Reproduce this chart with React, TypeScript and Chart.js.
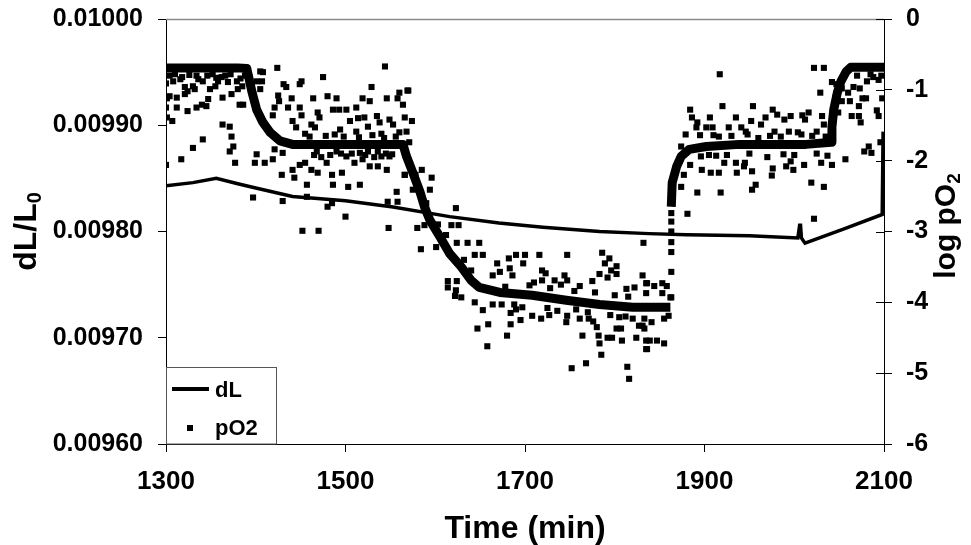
import React, { useEffect, useRef } from "react";
import { Chart, registerables } from "chart.js";

Chart.register(...registerables);

const FONT = '"Liberation Sans", Arial, Helvetica, sans-serif';

// ---- axis ticks ----
const xTicks = [1300, 1500, 1700, 1900, 2100];
const leftTicks = [0.0096, 0.0097, 0.0098, 0.0099, 0.01];
const rightTicks = [-6, -5, -4, -3, -2, -1, 0];

// ---- dL/L0 (left axis) ----
const dLTime = [1300, 1330, 1356, 1380, 1400, 1441, 1500, 1553, 1616, 1671, 1720, 1783, 1838, 1880, 1950, 2004, 2006, 2007, 2008, 2012, 2057, 2098, 2099];
const dLValue = [0.009843, 0.009846, 0.00985, 0.009845, 0.009841, 0.009833, 0.009829, 0.009823, 0.009814, 0.009808, 0.009804, 0.0098, 0.009798, 0.009797, 0.009796, 0.009794, 0.009806, 0.009806, 0.009794, 0.009789, 0.009803, 0.009816, 0.009894];

// ---- log pO2 dense core (right axis) ----
const pO2CoreTimeA = [1300, 1320, 1340, 1360, 1380, 1390, 1396, 1401, 1408, 1416, 1427, 1441, 1480, 1520, 1564, 1568, 1575, 1583, 1588, 1594, 1605, 1616, 1629, 1640, 1649, 1672, 1708, 1746, 1783, 1820, 1862];
const pO2CoreLogA = [-0.69, -0.69, -0.69, -0.69, -0.69, -0.7, -1.04, -1.28, -1.46, -1.6, -1.72, -1.77, -1.77, -1.77, -1.77, -1.94, -2.17, -2.44, -2.65, -2.84, -3.07, -3.31, -3.5, -3.69, -3.79, -3.86, -3.9, -3.97, -4.03, -4.07, -4.07];
const pO2CoreTimeB = [1863, 1864, 1869, 1874, 1883, 1902, 1939, 1975, 2013, 2041, 2042, 2044, 2048, 2052, 2058, 2063, 2100];
const pO2CoreLogB = [-2.65, -2.31, -2.08, -1.94, -1.84, -1.8, -1.77, -1.77, -1.77, -1.74, -1.52, -1.28, -1.04, -0.88, -0.74, -0.68, -0.68];

// ---- log pO2 scattered readings [time, log pO2] ----
const pO2High1: [number, number][] = [
  [1300, -2.06], [1317, -1.98], [1330, -1.82], [1341, -1.7], [1301, -1.39], [1307, -1.44], [1300, -1.25], [1312, -1.25],
  [1324, -1.3], [1334, -1.25], [1340, -1.21], [1345, -1.23], [1347, -1.13], [1301, -1.12], [1304, -1.09], [1312, -1.11],
  [1321, -1.06], [1324, -1.02], [1332, -0.99], [1349, -0.99], [1355, -0.95], [1363, -1.11], [1373, -1.06], [1382, -1.21],
  [1386, -1.21], [1363, -1.49], [1371, -1.52], [1373, -1.66], [1375, -1.8], [1371, -1.87], [1377, -2.03], [1300, -0.91],
  [1308, -0.88], [1316, -0.85], [1321, -0.96], [1330, -0.95], [1336, -0.85], [1341, -0.88], [1358, -0.88], [1362, -0.82],
  [1369, -0.89], [1379, -0.88], [1385, -0.95], [1380, -0.99], [1304, -0.8], [1326, -0.79], [1346, -0.8], [1352, -0.78],
  [1366, -0.8], [1388, -0.8], [1310, -0.78], [1318, -0.82], [1334, -0.8], [1356, -0.83], [1372, -0.78], [1383, -0.84],
];
const pO2Mid1: [number, number][] = [
  [1405, -0.74], [1408, -0.75], [1424, -0.69], [1407, -0.88], [1401, -0.88], [1393, -0.82], [1405, -0.99], [1431, -0.92],
  [1434, -0.96], [1451, -0.88], [1449, -0.92], [1475, -0.82], [1544, -0.67], [1425, -1.08], [1440, -1.12], [1426, -1.16],
  [1436, -1.25], [1449, -1.25], [1464, -1.12], [1480, -1.09], [1490, -1.12], [1486, -1.28], [1493, -1.28], [1501, -1.28],
  [1512, -1.25], [1519, -1.12], [1527, -1.16], [1529, -0.96], [1546, -1.12], [1558, -1.12], [1560, -1.04], [1569, -1.01],
  [1421, -1.25], [1419, -1.36], [1451, -1.36], [1469, -1.32], [1471, -1.39], [1441, -1.44], [1462, -1.49], [1466, -1.53],
  [1505, -1.44], [1514, -1.4], [1521, -1.39], [1535, -1.37], [1538, -1.46], [1549, -1.42], [1553, -1.49], [1566, -1.39],
  [1494, -1.56], [1512, -1.59], [1525, -1.52], [1560, -1.6], [1445, -1.53], [1401, -1.91], [1399, -2.03], [1410, -2.03],
  [1419, -1.98], [1421, -1.84], [1429, -2.2], [1441, -2.13], [1443, -2.24], [1449, -2.06], [1457, -2.34], [1455, -2.03],
  [1462, -2.13], [1469, -2.17], [1479, -2.03], [1485, -2.2], [1486, -2.34], [1496, -2.17], [1503, -2.37], [1510, -2.03],
  [1516, -2.34], [1519, -1.98], [1527, -2.08], [1536, -2.08], [1540, -1.94], [1546, -2.13], [1549, -1.94], [1557, -2.44],
  [1558, -2.58], [1547, -2.58], [1566, -2.2], [1536, -1.87], [1525, -1.87], [1516, -1.89], [1501, -1.94], [1490, -1.87],
  [1468, -1.87], [1430, -1.89], [1397, -2.52], [1430, -2.57], [1485, -2.6], [1457, -2.51], [1452, -2.99], [1470, -2.99],
  [1500, -2.79], [1480, -2.65], [1548, -2.95], [1455, -1.62], [1478, -1.65], [1483, -1.92], [1498, -1.66], [1507, -1.9],
  [1530, -1.64], [1543, -1.68], [1552, -1.91], [1473, -1.95], [1532, -1.95], [1460, -1.66], [1488, -1.63], [1515, -1.67],
  [1540, -1.62], [1556, -1.66], [1465, -1.92], [1495, -1.9], [1522, -1.92], [1545, -1.9],
];
const pO2Fall: [number, number][] = [
  [1570, -1.01], [1564, -1.21], [1574, -1.44], [1568, -1.59], [1571, -1.74], [1585, -2.13], [1596, -2.24], [1594, -2.41],
  [1566, -2.2], [1575, -2.41], [1623, -2.67], [1580, -2.95], [1588, -2.91], [1584, -3.25], [1618, -2.91], [1626, -2.91],
  [1601, -3.22], [1624, -3.16], [1636, -3.16], [1649, -3.16], [1644, -3.33], [1653, -3.33], [1614, -3.7], [1624, -3.7],
  [1614, -3.79], [1622, -3.91], [1629, -3.93], [1623, -3.83], [1644, -4.0], [1653, -4.11], [1647, -4.37], [1659, -4.31],
  [1658, -4.62], [1578, -2.2], [1590, -2.6], [1603, -2.9], [1612, -3.05], [1632, -3.4], [1640, -3.55],
];
const pO2Low: [number, number][] = [
  [1680, -4.47], [1684, -4.31], [1684, -4.15], [1664, -4.03], [1674, -4.03], [1688, -4.03], [1697, -4.07], [1708, -4.19],
  [1718, -4.23], [1727, -4.18], [1746, -4.28], [1747, -4.19], [1761, -4.23], [1764, -4.47], [1771, -4.23], [1776, -4.27],
  [1780, -4.35], [1782, -4.47], [1783, -4.58], [1785, -4.74], [1792, -4.5], [1797, -4.5], [1802, -4.37], [1807, -4.37],
  [1808, -4.54], [1752, -4.93], [1768, -4.86], [1814, -4.91], [1816, -5.08], [1824, -4.5], [1827, -4.33], [1835, -4.54],
  [1835, -4.66], [1805, -4.21], [1820, -4.23], [1669, -3.45], [1682, -3.38], [1690, -3.33], [1700, -3.33], [1716, -3.33],
  [1698, -3.45], [1683, -3.52], [1672, -3.57], [1664, -3.62], [1686, -3.62], [1719, -3.55], [1723, -3.59], [1719, -3.69],
  [1733, -3.69], [1744, -3.62], [1747, -3.33], [1747, -3.69], [1761, -3.77], [1775, -3.7], [1786, -3.3], [1789, -3.45],
  [1794, -3.38], [1796, -3.55], [1802, -3.49], [1802, -3.6], [1783, -3.6], [1792, -3.65], [1831, -3.62], [1835, -3.73],
  [1822, -3.79], [1813, -3.81], [1832, -3.16], [1836, -3.73], [1844, -3.77], [1853, -3.73], [1858, -3.77], [1835, -3.87],
  [1853, -3.87], [1862, -3.93], [1833, -4.23], [1841, -4.28], [1855, -4.23], [1860, -4.19], [1831, -4.33], [1833, -4.37],
  [1839, -4.54], [1847, -4.54], [1855, -4.58], [1836, -4.66], [1695, -4.25], [1736, -4.12], [1757, -4.1], [1740, -3.75],
  [1710, -3.72], [1678, -3.78], [1705, -3.76], [1728, -3.8], [1755, -3.84], [1778, -3.86], [1800, -3.9], [1815, -3.92],
  [1690, -4.1], [1725, -4.08], [1770, -4.14], [1795, -4.18], [1812, -4.2],
];
const pO2Jump: [number, number][] = [
  [1863, -2.74], [1863, -2.86], [1863, -3.0], [1863, -3.15], [1863, -3.29], [1863, -3.57], [1863, -3.93], [1881, -2.75],
  [2022, -2.82],
];
const pO2Mid2: [number, number][] = [
  [1917, -0.78], [1884, -1.28], [1886, -1.39], [1920, -1.23], [1954, -1.23], [1906, -1.39], [1892, -1.46], [1935, -1.39],
  [1952, -1.44], [1968, -1.39], [1976, -1.28], [1981, -1.35], [1989, -1.42], [1996, -1.37], [2009, -1.36], [2016, -1.32],
  [2012, -1.42], [2031, -1.37], [2033, -1.49], [1891, -1.53], [1902, -1.53], [1909, -1.53], [1927, -1.53], [1941, -1.53],
  [1946, -1.59], [1879, -1.63], [1895, -1.64], [1916, -1.66], [1963, -1.49], [1978, -1.59], [1994, -1.59], [2004, -1.6],
  [2025, -1.59], [1874, -1.8], [1896, -1.94], [1913, -1.93], [1922, -2.03], [1935, -2.03], [1945, -2.03], [1936, -2.17],
  [1944, -2.08], [1953, -2.15], [1957, -2.34], [1953, -2.41], [1976, -2.11], [1975, -2.21], [1991, -2.08], [1996, -2.01],
  [1999, -2.13], [2011, -2.06], [2030, -2.03], [2042, -2.06], [2057, -1.98], [2019, -2.31], [2033, -2.37], [1907, -2.17],
  [1916, -2.17], [1897, -2.13], [1877, -2.2], [1874, -2.37], [1892, -2.45], [1918, -2.45], [1884, -2.06], [1930, -1.65],
  [1960, -1.68], [1985, -1.66], [2020, -1.65], [1925, -1.92], [1970, -1.95], [2000, -1.92], [2037, -1.93], [1910, -1.64],
  [1948, -1.63], [1973, -1.65], [2008, -1.63], [2035, -1.66], [1905, -1.92], [1950, -1.9], [1988, -1.91], [2025, -1.9],
];
const pO2High2: [number, number][] = [
  [2022, -0.69], [2033, -0.69], [2042, -0.89], [2029, -1.04], [2046, -1.11], [2049, -1.32], [2053, -1.16], [2060, -1.04],
  [2066, -0.96], [2073, -0.98], [2081, -0.88], [2088, -0.82], [2094, -0.86], [2062, -1.16], [2072, -1.23], [2076, -1.12],
  [2080, -1.12], [2064, -1.37], [2072, -1.37], [2074, -1.46], [2092, -1.29], [2094, -1.37], [2098, -1.12], [2078, -1.87],
  [2083, -1.8], [2086, -1.89], [2096, -1.74], [2053, -0.98], [2047, -0.92], [2070, -0.8], [2085, -0.78], [2097, -0.8],
];

const zip = (xs: number[], ys: number[]) => xs.map((x, i) => ({ x, y: ys[i] }));
const pairs = (list: [number, number][]) => list.map(([x, y]) => ({ x, y }));

const decor = {
  id: "decor",
  afterDraw(chart: any) {
    const { ctx, chartArea } = chart;
    const { left, right, top, bottom } = chartArea;
    const y2 = chart.scales.y2;
    ctx.save();
    // top border of the plot area
    ctx.strokeStyle = "#8a8a8a";
    ctx.lineWidth = 1.5;
    ctx.beginPath();
    ctx.moveTo(left, top + 0.5);
    ctx.lineTo(right, top + 0.5);
    ctx.stroke();
    // inner part of right-axis ticks
    ctx.strokeStyle = "#000";
    ctx.lineWidth = 1;
    rightTicks.forEach((v) => {
      const y = Math.round(y2.getPixelForValue(v)) + 0.5;
      ctx.beginPath();
      ctx.moveTo(right - 8, y);
      ctx.lineTo(right, y);
      ctx.stroke();
    });
    ctx.fillStyle = "#000";
    // x title
    ctx.font = `bold 32px ${FONT}`;
    ctx.textAlign = "center";
    ctx.textBaseline = "alphabetic";
    ctx.fillText("Time (min)", (left + right) / 2, 538);
    // left title dL/L0
    ctx.save();
    ctx.translate(36, (top + bottom) / 2);
    ctx.rotate(-Math.PI / 2);
    const main1 = "dL/L";
    ctx.font = `bold 32px ${FONT}`;
    const w1 = ctx.measureText(main1).width;
    ctx.font = `bold 20px ${FONT}`;
    const s1 = ctx.measureText("0").width;
    const tot1 = w1 + s1;
    ctx.textAlign = "left";
    ctx.font = `bold 32px ${FONT}`;
    ctx.fillText(main1, -tot1 / 2, 0);
    ctx.font = `bold 20px ${FONT}`;
    ctx.fillText("0", -tot1 / 2 + w1, 5);
    ctx.restore();
    // right title log pO2
    ctx.save();
    ctx.translate(955, 226);
    ctx.rotate(-Math.PI / 2);
    const main2 = "log pO";
    ctx.font = `bold 30px ${FONT}`;
    const w2 = ctx.measureText(main2).width;
    ctx.font = `bold 19px ${FONT}`;
    const s2 = ctx.measureText("2").width;
    const tot2 = w2 + s2;
    ctx.textAlign = "left";
    ctx.font = `bold 30px ${FONT}`;
    ctx.fillText(main2, -tot2 / 2, 0);
    ctx.font = `bold 19px ${FONT}`;
    ctx.fillText("2", -tot2 / 2 + w2, 5);
    ctx.restore();
    // legend box
    ctx.fillStyle = "#fff";
    ctx.fillRect(left, 368, 110, bottom - 368);
    ctx.strokeStyle = "#555";
    ctx.lineWidth = 1;
    ctx.strokeRect(left + 0.5, 367.5, 110, bottom - 367.5);
    ctx.strokeStyle = "#000";
    ctx.lineWidth = 4;
    ctx.beginPath();
    ctx.moveTo(left + 6, 389);
    ctx.lineTo(left + 43, 389);
    ctx.stroke();
    ctx.fillStyle = "#000";
    ctx.fillRect(left + 21, 425, 6, 6);
    ctx.font = `bold 22px ${FONT}`;
    ctx.textAlign = "left";
    ctx.textBaseline = "middle";
    ctx.fillText("dL", left + 49, 391);
    ctx.fillText("pO2", left + 49, 429);
    ctx.restore();
  },
};

const noVPad = (w: number) => (s: any) => {
  s.width = w;
  s.paddingTop = 0;
  s.paddingBottom = 0;
};

export default function App() {
  const ref = useRef<HTMLCanvasElement | null>(null);
  useEffect(() => {
    if (!ref.current) return;
    const scatterStyle = {
      showLine: false,
      pointStyle: "rect",
      pointRadius: 4.3,
      pointBorderWidth: 0,
      backgroundColor: "#000",
      borderColor: "#000",
      yAxisID: "y2",
    };
    const coreStyle = {
      showLine: true,
      borderColor: "#000",
      borderWidth: 9,
      borderJoinStyle: "round",
      pointRadius: 0,
      tension: 0,
      yAxisID: "y2",
    };
    const chart = new Chart(ref.current, {
      type: "scatter",
      data: {
        datasets: [
          {
            label: "dL",
            data: zip(dLTime, dLValue),
            showLine: true,
            borderColor: "#000",
            borderWidth: 3.5,
            pointRadius: 0,
            tension: 0,
            yAxisID: "y",
          },
          { label: "pO2 core A", data: zip(pO2CoreTimeA, pO2CoreLogA), ...coreStyle },
          { label: "pO2 core B", data: zip(pO2CoreTimeB, pO2CoreLogB), ...coreStyle },
          { label: "pO2", data: pairs([...pO2High1, ...pO2Mid1, ...pO2Fall, ...pO2Low, ...pO2Jump, ...pO2Mid2, ...pO2High2]), ...scatterStyle },
        ] as any,
      },
      options: {
        animation: false,
        responsive: false,
        devicePixelRatio: 1,
        layout: { padding: { top: 19, left: 0, right: 0, bottom: 0 } },
        plugins: { legend: { display: false }, tooltip: { enabled: false } },
        scales: {
          x: {
            type: "linear",
            min: 1300,
            max: 2100,
            afterBuildTicks: (s: any) => {
              s.ticks = xTicks.map((v) => ({ value: v }));
            },
            afterFit: (s: any) => {
              s.height = 101;
            },
            grid: { drawOnChartArea: false, drawTicks: true, tickLength: 8, color: "#000", lineWidth: 1 },
            border: { display: true, color: "#000", width: 1 },
            ticks: {
              color: "#000",
              font: { family: FONT, size: 26, weight: "bold" },
              padding: 14,
              maxRotation: 0,
              autoSkip: false,
              callback: (v: any) => String(v),
            },
          },
          y: {
            type: "linear",
            position: "left",
            min: 0.0096,
            max: 0.01,
            afterBuildTicks: (s: any) => {
              s.ticks = leftTicks.map((v) => ({ value: v }));
            },
            afterFit: noVPad(166),
            grid: { drawOnChartArea: false, drawTicks: true, tickLength: 8, color: "#000", lineWidth: 1 },
            border: { display: true, color: "#000", width: 1 },
            ticks: {
              color: "#000",
              font: { family: FONT, size: 25, weight: "bold" },
              padding: 15,
              autoSkip: false,
              callback: (v: any) => Number(v).toFixed(5),
            },
          },
          y2: {
            type: "linear",
            position: "right",
            min: -6,
            max: 0,
            afterBuildTicks: (s: any) => {
              s.ticks = rightTicks.map((v) => ({ value: v }));
            },
            afterFit: noVPad(87),
            grid: { drawOnChartArea: false, drawTicks: true, tickLength: 8, color: "#000", lineWidth: 1 },
            border: { display: true, color: "#000", width: 1 },
            ticks: {
              color: "#000",
              font: { family: FONT, size: 25, weight: "bold" },
              padding: 14,
              autoSkip: false,
              callback: (v: any) => String(v),
            },
          },
        },
      } as any,
      plugins: [decor],
    });
    return () => chart.destroy();
  }, []);
  return (
    <div style={{ position: "absolute", left: 0, top: 0, width: 971, height: 545, background: "#fff" }}>
      <canvas ref={ref} width={971} height={545} style={{ display: "block" }} />
    </div>
  );
}
